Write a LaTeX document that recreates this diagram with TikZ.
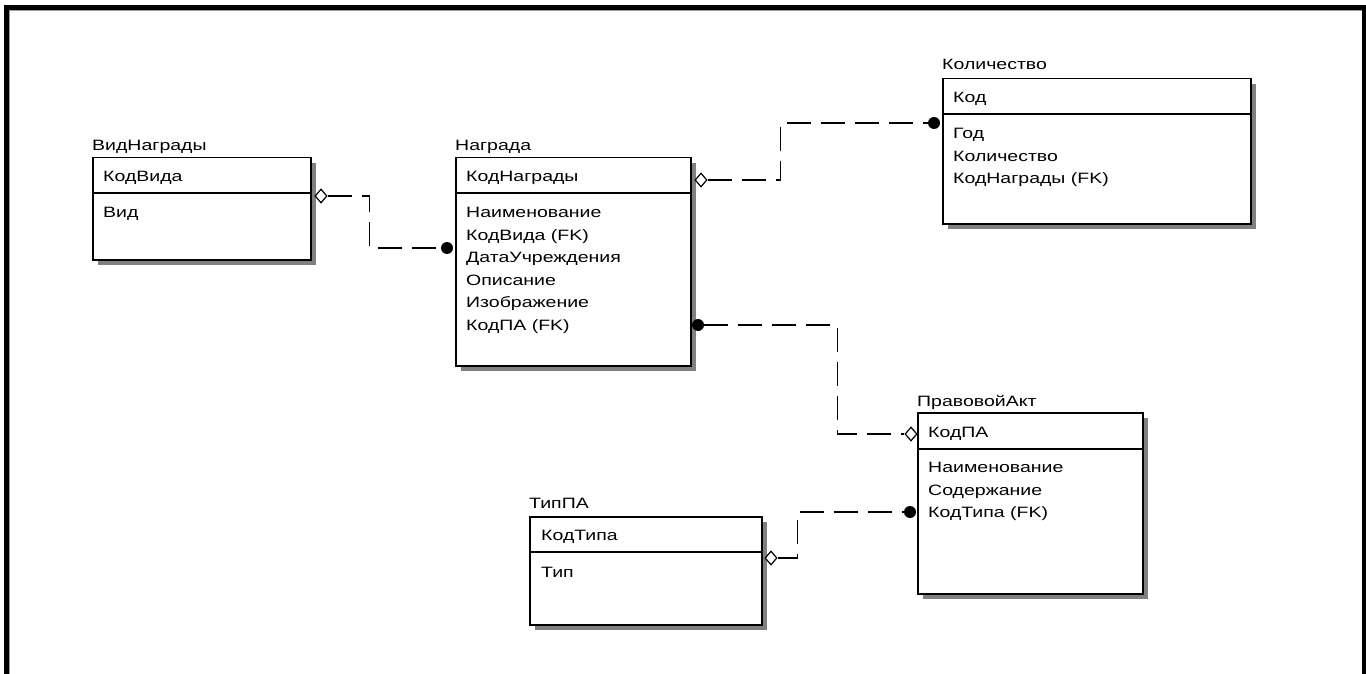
\documentclass[tikz,border=0pt]{standalone}
\usepackage{fontspec}
\setmainfont{Liberation Sans}[FakeStretch=1.3]
\usetikzlibrary{shapes.geometric,shadows}
\begin{document}
\begin{tikzpicture}[x=1pt,y=-1pt,
  every node/.style={font=\fontsize{15}{18}\selectfont},
  entbox/.style={draw=black, line width=1.5pt, fill=white, anchor=north west,
    inner sep=0pt, drop shadow={shadow xshift=5pt, shadow yshift=-5pt, fill=black!50, opacity=1}},
  divline/.style={line width=1.5pt},
  lbl/.style={anchor=base west, inner sep=0pt},
  relline/.style={line width=1.4pt, dash pattern=on 24pt off 10pt},
  nullend/.style={diamond, draw=black, line width=1.2pt, fill=white, inner sep=0pt,
    minimum width=12pt, minimum height=14pt},
  manyend/.style={circle, fill=black, inner sep=0pt, minimum size=12pt}
]
% page area and frame
\useasboundingbox (0,0) rectangle (1366,674);
\fill[white] (0,0) rectangle (1366,674);
\fill[black] (4,5) rectangle (1366,10);
\fill[black] (4,5) rectangle (9,674);
\fill[black] (1362,5) rectangle (1366,674);
\fill[black!40] (9,10) rectangle (1362,11);
\fill[black!40] (9,10) rectangle (10,674);

% ---- ВидНаграды
\node[entbox, minimum width=218pt, minimum height=102pt] (vid) at (92,157) {};
\draw[divline] ([yshift=-36pt]vid.north west) -- ([yshift=-36pt]vid.north east);
\node[lbl] (vidT) at (92,150) {ВидНаграды};
\node[lbl] (vid1) at (103,181.5) {КодВида};
\node[lbl] (vid2) at (103,217.5) {Вид};

% ---- Награда
\node[entbox, minimum width=235pt, minimum height=208pt] (nagr) at (455,157) {};
\draw[divline] ([yshift=-36pt]nagr.north west) -- ([yshift=-36pt]nagr.north east);
\node[lbl] (nagrT) at (455,150) {Награда};
\node[lbl] (nagr1) at (466,181.5) {КодНаграды};
\node[lbl] (nagr2) at (466,217.5) {Наименование};
\node[lbl] (nagr3) at (466,240) {КодВида (FK)};
\node[lbl] (nagr4) at (466,262.5) {ДатаУчреждения};
\node[lbl] (nagr5) at (466,285) {Описание};
\node[lbl] (nagr6) at (466,307.5) {Изображение};
\node[lbl] (nagr7) at (466,330) {КодПА (FK)};

% ---- Количество
\node[entbox, minimum width=308pt, minimum height=145pt] (kol) at (942,78) {};
\draw[divline] ([yshift=-36pt]kol.north west) -- ([yshift=-36pt]kol.north east);
\node[lbl] (kolT) at (942,70) {Количество};
\node[lbl] (kol1) at (953,103) {Код};
\node[lbl] (kol2) at (953,139) {Год};
\node[lbl] (kol3) at (953,161.5) {Количество};
\node[lbl] (kol4) at (953,184) {КодНаграды (FK)};

% ---- ПравовойАкт
\node[entbox, minimum width=225pt, minimum height=181pt] (pa) at (917,412) {};
\draw[divline] ([yshift=-37pt]pa.north west) -- ([yshift=-37pt]pa.north east);
\node[lbl] (paT) at (917,406) {ПравовойАкт};
\node[lbl] (pa1) at (928,437) {КодПА};
\node[lbl] (pa2) at (928,472.5) {Наименование};
\node[lbl] (pa3) at (928,495) {Содержание};
\node[lbl] (pa4) at (928,517.5) {КодТипа (FK)};

% ---- ТипПА
\node[entbox, minimum width=232pt, minimum height=108pt] (tip) at (529,516) {};
\draw[divline] ([yshift=-36pt]tip.north west) -- ([yshift=-36pt]tip.north east);
\node[lbl] (tipT) at (529,508) {ТипПА};
\node[lbl] (tip1) at (541,540) {КодТипа};
\node[lbl] (tip2) at (541,577) {Тип};

% ---- relationship ends
\node[nullend] (d1) at (321,196) {};
\node[manyend] (m1) at (447,248) {};
\node[nullend] (d2) at (701,180) {};
\node[manyend] (m2) at (934,123) {};
\node[manyend] (m3) at (698,325) {};
\node[nullend] (d3) at (911,434) {};
\node[nullend] (d4) at (771,558) {};
\node[manyend] (m4) at (910,512) {};

% ---- relationships
\draw[relline] (d1.east) -- ++(42,0) |- (m1.west);
\draw[relline] (d2.east) -- ++(73,0) |- (m2.west);
\draw[relline] (m3.east) -- ++(133,0) |- (d3.west);
\draw[relline] (d4.east) -- ++(20,0) |- (m4.west);
\end{tikzpicture}
\end{document}
